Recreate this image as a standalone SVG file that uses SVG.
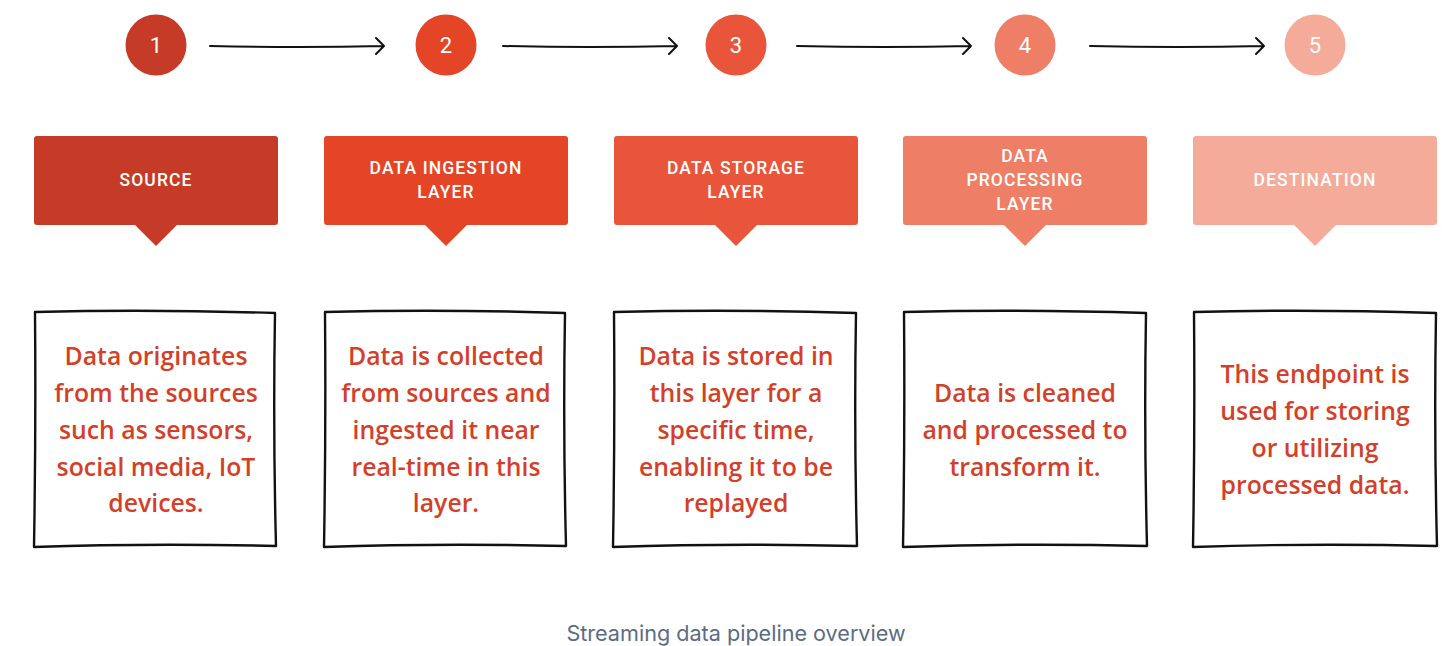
<svg xmlns="http://www.w3.org/2000/svg" width="1442" height="646" viewBox="0 0 1442 646">
<defs>
<style>
.num{font-family:Roboto,"Liberation Sans",sans-serif;font-size:22px;fill:#fff;text-anchor:middle;dominant-baseline:central}
.hdr{font-family:Roboto,"Liberation Sans",sans-serif;font-size:17.5px;font-weight:500;fill:#fff;text-anchor:middle;letter-spacing:1.1px;dominant-baseline:central}
.body{font-family:"Open Sans","Liberation Sans",sans-serif;font-size:24.8px;font-weight:600;fill:#d43f2a;text-anchor:middle;dominant-baseline:central}
.frame{fill:#fff;stroke:#111;stroke-width:2.4;stroke-linejoin:round;stroke-linecap:round}
.conn{fill:none;stroke:#111;stroke-width:2;stroke-linecap:round;stroke-linejoin:round}
.cap{font-family:Inter,"Liberation Sans",sans-serif;font-size:21.6px;fill:#5c6b84;text-anchor:middle;dominant-baseline:central}
</style>
</defs>
<rect width="1442" height="646" fill="#fff"/>
<g id="connectors">
<path class="conn" d="M210 46 Q300 48 384 46 M376 38 L384 46 L376 54"/>
<path class="conn" d="M503 46 Q590 48 677 46 M669 38 L677 46 L669 54"/>
<path class="conn" d="M797 46 Q885 48 971 46 M963 38 L971 46 L963 54"/>
<path class="conn" d="M1090 46 Q1178 48 1264 46 M1256 38 L1264 46 L1256 54"/>
</g>
<g id="step1">
<circle cx="156" cy="45" r="30.5" fill="#c63b27"/>
<text class="num" x="156" y="45">1</text>
<path d="M37 136 H275 Q278 136 278 139 V222 Q278 225 275 225 H177 L156 246 L135 225 H37 Q34 225 34 222 V139 Q34 136 37 136 Z" fill="#c63b27"/>
<text class="hdr" x="156" y="180">SOURCE</text>
<path class="frame" d="M35 312 Q150 309 275 313 Q273 430 276 546 Q150 543 34 547 Q36 430 35 312 Z"/>
<text class="body" x="156" y="355">Data originates</text>
<text class="body" x="156" y="392">from the sources</text>
<text class="body" x="156" y="429">such as sensors,</text>
<text class="body" x="156" y="466">social media, IoT</text>
<text class="body" x="156" y="502">devices.</text>
</g>
<g id="step2">
<circle cx="446" cy="45" r="30.5" fill="#e34526"/>
<text class="num" x="446" y="45">2</text>
<path d="M327 136 H565 Q568 136 568 139 V222 Q568 225 565 225 H467 L446 246 L425 225 H327 Q324 225 324 222 V139 Q324 136 327 136 Z" fill="#e34526"/>
<text class="hdr" x="446" y="168">DATA INGESTION</text>
<text class="hdr" x="446" y="192">LAYER</text>
<path class="frame" d="M325 312 Q440 309 565 313 Q563 430 566 546 Q440 543 324 547 Q326 430 325 312 Z"/>
<text class="body" x="446" y="355">Data is collected</text>
<text class="body" x="446" y="392">from sources and</text>
<text class="body" x="446" y="429">ingested it near</text>
<text class="body" x="446" y="466">real-time in this</text>
<text class="body" x="446" y="502">layer.</text>
</g>
<g id="step3">
<circle cx="736" cy="45" r="30.5" fill="#e8553a"/>
<text class="num" x="736" y="45">3</text>
<path d="M617 136 H855 Q858 136 858 139 V222 Q858 225 855 225 H757 L736 246 L715 225 H617 Q614 225 614 222 V139 Q614 136 617 136 Z" fill="#e8553a"/>
<text class="hdr" x="736" y="168">DATA STORAGE</text>
<text class="hdr" x="736" y="192">LAYER</text>
<path class="frame" d="M614 312 Q730 309 856 313 Q854 430 857 546 Q730 543 613 547 Q615 430 614 312 Z"/>
<text class="body" x="736" y="355">Data is stored in</text>
<text class="body" x="736" y="392">this layer for a</text>
<text class="body" x="736" y="429">specific time,</text>
<text class="body" x="736" y="466">enabling it to be</text>
<text class="body" x="736" y="502">replayed</text>
</g>
<g id="step4">
<circle cx="1025" cy="45" r="30.5" fill="#ef7e67"/>
<text class="num" x="1025" y="45">4</text>
<path d="M906 136 H1144 Q1147 136 1147 139 V222 Q1147 225 1144 225 H1046 L1025 246 L1004 225 H906 Q903 225 903 222 V139 Q903 136 906 136 Z" fill="#ef7e67"/>
<text class="hdr" x="1025" y="156">DATA</text>
<text class="hdr" x="1025" y="180">PROCESSING</text>
<text class="hdr" x="1025" y="204">LAYER</text>
<path class="frame" d="M904 312 Q1020 309 1146 313 Q1144 430 1147 546 Q1020 543 903 547 Q905 430 904 312 Z"/>
<text class="body" x="1025" y="392">Data is cleaned</text>
<text class="body" x="1025" y="429">and processed to</text>
<text class="body" x="1025" y="466">transform it.</text>
</g>
<g id="step5">
<circle cx="1315" cy="45" r="30.5" fill="#f4ab99"/>
<text class="num" x="1315" y="45">5</text>
<path d="M1196 136 H1434 Q1437 136 1437 139 V222 Q1437 225 1434 225 H1336 L1315 246 L1294 225 H1196 Q1193 225 1193 222 V139 Q1193 136 1196 136 Z" fill="#f4ab99"/>
<text class="hdr" x="1315" y="180">DESTINATION</text>
<path class="frame" d="M1194 312 Q1310 309 1436 313 Q1434 430 1437 546 Q1310 543 1193 547 Q1195 430 1194 312 Z"/>
<text class="body" x="1315" y="373">This endpoint is</text>
<text class="body" x="1315" y="410">used for storing</text>
<text class="body" x="1315" y="447">or utilizing</text>
<text class="body" x="1315" y="484">processed data.</text>
</g>
<text class="cap" x="736" y="633">Streaming data pipeline overview</text>
</svg>
